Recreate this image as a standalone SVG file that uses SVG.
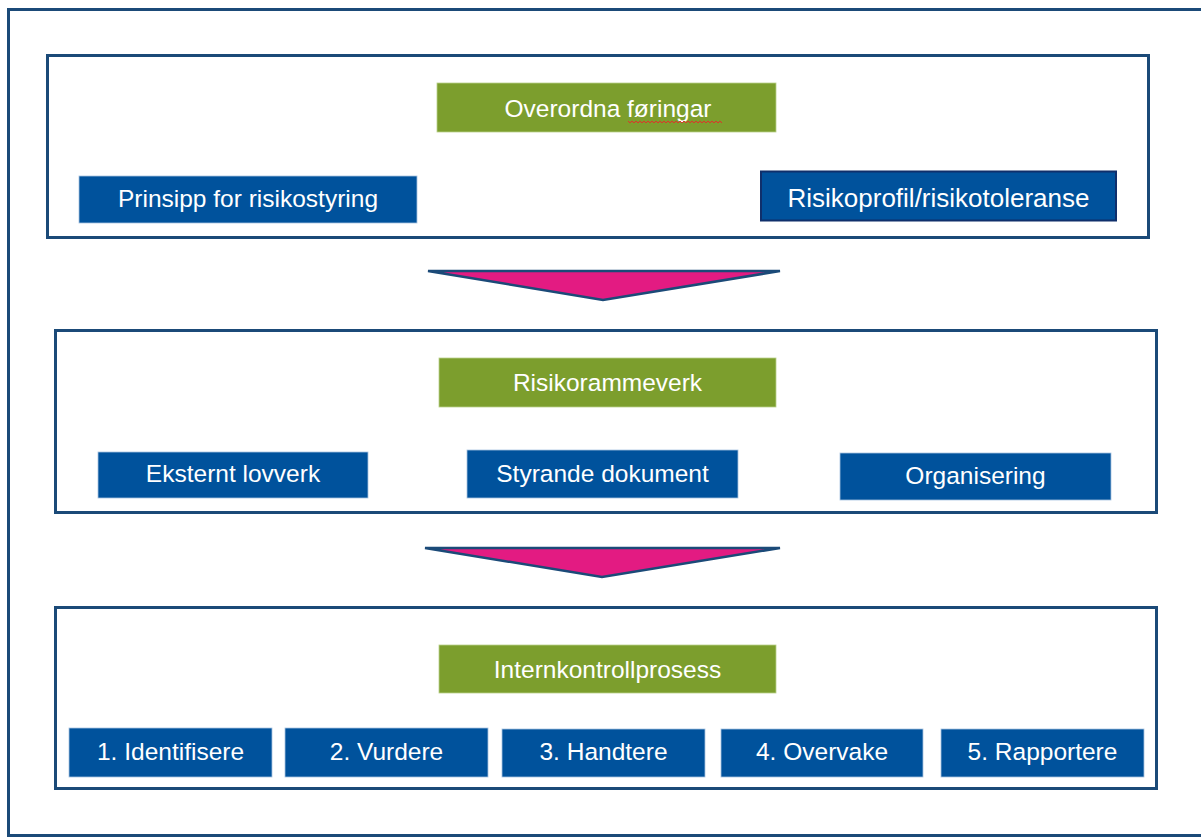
<svg xmlns="http://www.w3.org/2000/svg" width="1201" height="837" viewBox="0 0 1201 837">
<style>
.frame{fill:none;stroke:#1b4a78;stroke-width:3}
.panel{fill:#fff;stroke:#1b4a78;stroke-width:3}
.blue{fill:#00529c;stroke:#a9c4e0;stroke-width:0.8}
.blue2{fill:#00529c;stroke:#0f2f6b;stroke-width:2}
.green{fill:#7c9e2d;stroke:#b9d08a;stroke-width:0.8}
.arrow{fill:#e31b82;stroke:#1b4a78;stroke-width:2.5;stroke-linejoin:miter}
text{font-family:"Liberation Sans",Arial,sans-serif;font-size:24.5px;fill:#fff;text-anchor:middle}
</style>
<rect x="0" y="0" width="1201" height="837" fill="#fff"/>
<path class="frame" d="M1203 9.5 H8.5 V835.5 H1203"/>
<g id="panel1">
<rect class="panel" x="47.5" y="55.5" width="1101" height="182"/>
</g>
<g id="panel2">
<rect class="panel" x="55.5" y="330.5" width="1101" height="182"/>
</g>
<g id="panel3">
<rect class="panel" x="55.5" y="607.5" width="1101" height="181"/>
</g>
<g id="connectors">
<polygon class="arrow" points="428,271 780,271 603,300"/>
<polygon class="arrow" points="425,548 780,548 602,577"/>
</g>
<g id="overordna">
<rect class="green" x="437" y="83" width="339" height="49"/>
<text x="608" y="117">Overordna føringar</text>
<path d="M628 121 l2 2 l2 -2 l2 2 l2 -2 l2 2 l2 -2 l2 2 l2 -2 l2 2 l2 -2 l2 2 l2 -2 l2 2 l2 -2 l2 2 l2 -2 l2 2 l2 -2 l2 2 l2 -2 l2 2 l2 -2 l2 2 l2 -2 l2 2 l2 -2 l2 2 l2 -2 l2 2 l2 -2 l2 2 l2 -2 l2 2 l2 -2 l2 2 l2 -2 l2 2 l2 -2 l2 2 l2 -2 l2 2 l2 -2 l2 2 l2 -2 l2 2 l2 -2 l2 2" fill="none" stroke="#e0302a" stroke-width="1"/>
</g>
<g id="prinsipp">
<rect class="blue" x="79" y="176" width="338" height="47"/>
<text x="248" y="207">Prinsipp for risikostyring</text>
</g>
<g id="risikoprofil">
<rect class="blue2" x="761" y="171.5" width="355" height="49"/>
<text x="938.5" y="207" style="font-size:26px">Risikoprofil/risikotoleranse</text>
</g>
<g id="risikorammeverk">
<rect class="green" x="439" y="358" width="337" height="49"/>
<text x="607.5" y="391">Risikorammeverk</text>
</g>
<g id="eksternt">
<rect class="blue" x="98" y="452" width="270" height="46"/>
<text x="233" y="482">Eksternt lovverk</text>
</g>
<g id="styrande">
<rect class="blue" x="467" y="450" width="271" height="48"/>
<text x="602.5" y="482">Styrande dokument</text>
</g>
<g id="organisering">
<rect class="blue" x="840" y="453" width="271" height="47"/>
<text x="975.5" y="484">Organisering</text>
</g>
<g id="internkontroll">
<rect class="green" x="439" y="645" width="337" height="48"/>
<text x="607.5" y="678">Internkontrollprosess</text>
</g>
<g id="step1">
<rect class="blue" x="69" y="728" width="203" height="49"/>
<text x="170.5" y="760">1. Identifisere</text>
</g>
<g id="step2">
<rect class="blue" x="285" y="728" width="203" height="49"/>
<text x="386.5" y="760">2. Vurdere</text>
</g>
<g id="step3">
<rect class="blue" x="502" y="729" width="203" height="48"/>
<text x="603.5" y="760">3. Handtere</text>
</g>
<g id="step4">
<rect class="blue" x="721" y="729" width="202" height="48"/>
<text x="822" y="760">4. Overvake</text>
</g>
<g id="step5">
<rect class="blue" x="941" y="729" width="203" height="48"/>
<text x="1042.5" y="760">5. Rapportere</text>
</g>
</svg>
